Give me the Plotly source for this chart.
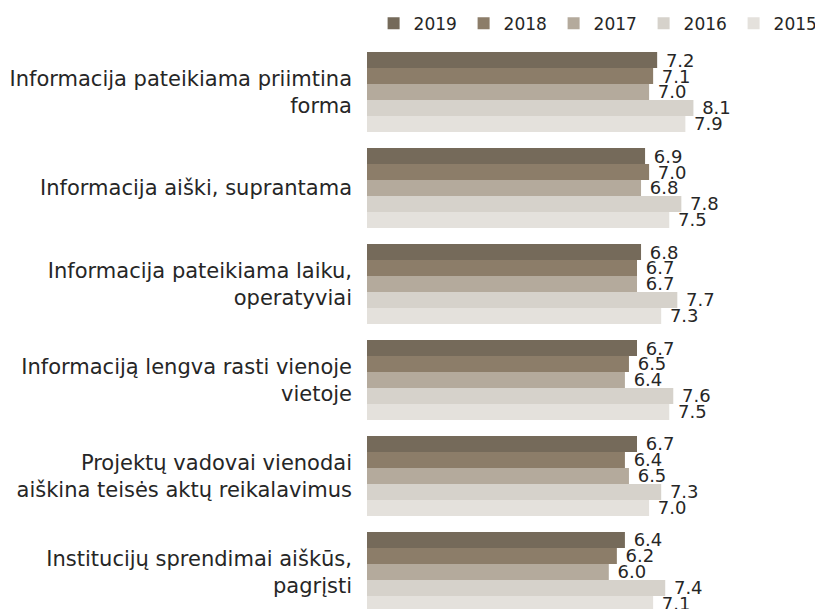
import plotly.graph_objects as go

categories = [
    "Informacija pateikiama priimtina<br>forma",
    "Informacija aiški, suprantama",
    "Informacija pateikiama laiku,<br>operatyviai",
    "Informaciją lengva rasti vienoje<br>vietoje",
    "Projektų vadovai vienodai<br>aiškina teisės aktų reikalavimus",
    "Institucijų sprendimai aiškūs,<br>pagrįsti",
]
years = ["2019", "2018", "2017", "2016", "2015"]
v2019 = [7.2, 6.9, 6.8, 6.7, 6.7, 6.4]
v2018 = [7.1, 7.0, 6.7, 6.5, 6.4, 6.2]
v2017 = [7.0, 6.8, 6.7, 6.4, 6.5, 6.0]
v2016 = [8.1, 7.8, 7.7, 7.6, 7.3, 7.4]
v2015 = [7.9, 7.5, 7.3, 7.5, 7.0, 7.1]
series = [v2019, v2018, v2017, v2016, v2015]
colors = ["#756a5a", "#8c7d69", "#b4aa9c", "#d6d2cb", "#e4e1dc"]

FONT = "DejaVu Sans"
TXT = "#262626"

fig = go.Figure()
for name, vals, col in zip(years, series, colors):
    fig.add_trace(go.Bar(
        y=categories, x=vals, name=name, orientation="h",
        marker=dict(color=col, line=dict(width=0)),
        texttemplate=" %{x:.1f}", textposition="outside",
        textfont=dict(family=FONT, size=18, color=TXT),
        constraintext="none", cliponaxis=False,
    ))

fig.update_layout(
    width=823, height=609,
    barmode="group", bargap=0.167, bargroupgap=0,
    plot_bgcolor="white", paper_bgcolor="white",
    margin=dict(l=359, r=61, t=36, b=0, autoexpand=False),
    font=dict(family=FONT, size=18, color=TXT),
    showlegend=True,
    legend=dict(orientation="h", x=1.133, xanchor="right", y=1.004, yanchor="bottom",
                entrywidth=45, entrywidthmode="pixels",
                font=dict(family=FONT, size=17, color=TXT),
                traceorder="normal", bgcolor="rgba(0,0,0,0)"),
    xaxis=dict(range=[0, 10], showgrid=False, showticklabels=False, zeroline=False,
               showline=False, ticks=""),
    yaxis=dict(range=[5.469, -0.5], showgrid=False, showline=False, ticks="",
               ticklabelstandoff=14, tickfont=dict(family=FONT, size=21, color=TXT)),
)

fig.write_html("out.html")
